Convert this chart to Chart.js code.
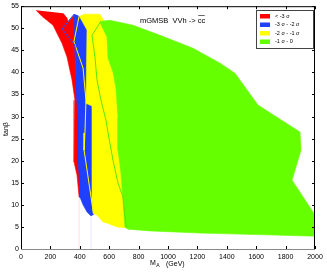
<!DOCTYPE html>
<html>
<head>
<meta charset="utf-8">
<script src="https://cdn.jsdelivr.net/npm/chart.js@4.4.0/dist/chart.umd.min.js"></script>
<style>
html, body { margin: 0; padding: 0; background: #fff; }
#wrap { width: 327px; height: 273px; }
</style>
</head>
<body>
<div id="wrap"><canvas id="scan" width="327" height="273"></canvas></div>
<script>
const xTicks = [0, 200, 400, 600, 800, 1000, 1200, 1400, 1600, 1800, 2000];
const yTicks = [0, 5, 10, 15, 20, 25, 30, 35, 40, 45, 50, 55];

const seriesLabels = ['< -3 \u03c3', '-3 \u03c3 - -2 \u03c3', '-2 \u03c3 - -1 \u03c3', '-1 \u03c3 - 0'];
const seriesColors = ['#ff0000', '#2040ff', '#ffff00', '#66ff00'];

// region outlines as [M_A (GeV), tan beta]
const redRegion = [[102, 54.1], [143, 52.7], [218, 50.7], [279, 46.6], [313, 43.5], [347, 38.3], [367, 33.7],
  [361, 29.7], [361, 24.2], [361, 19.7], [381, 16.7], [395, 11.8], [415, 11.5], [401, 20.1], [388, 36.0],
  [372, 49.5], [361, 53.0], [320, 51.5], [313, 52.3], [286, 53.4]];
const blueRegion = [[361, 53.2], [367, 46.2], [374, 36.0], [388, 29.7], [388, 19.7], [395, 16.7], [401, 11.8],
  [422, 10.0], [449, 8.4], [476, 7.5], [495, 7.9], [503, 22.4], [483, 49.6], [401, 52.5], [381, 53.0]];
const yellowRegion = [[401, 52.7], [429, 53.2], [537, 53.2], [571, 51.2], [592, 48.0], [619, 42.8], [673, 33.7],
  [687, 22.4], [714, 11.1], [741, 4.75], [721, 4.75], [653, 5.0], [585, 5.9], [558, 6.1], [517, 7.7],
  [490, 8.1], [483, 11.1], [483, 32.4], [442, 33.0], [449, 49.6], [401, 52.5]];
const greenRegion = [[537, 51.4], [585, 48.0], [592, 43.2], [626, 40.1], [646, 36.4], [660, 29.7], [660, 22.4],
  [680, 17.2], [694, 11.1], [707, 5.0], [728, 4.5], [878, 4.1], [1218, 3.6], [1673, 3.2], [2000, 2.9],
  [2000, 7.7], [1844, 15.6], [1905, 22.4], [1898, 26.5], [1612, 32.6], [1456, 39.8], [1354, 42.1],
  [1170, 45.5], [946, 48.4], [762, 50.7], [605, 51.8], [551, 51.6]];

// thin contour lines drawn over the fills
const blueEdge = [[361, 53.2], [279, 49.8], [367, 46.2], [374, 39.4]];
const yellowEdge = [[395, 52.7], [360, 47.0], [422, 41.0], [442, 33.7], [435, 26.3], [429, 22.4], [449, 17.9],
  [469, 13.4], [490, 8.8], [503, 7.9]];
const greenEdge = [[544, 51.6], [483, 48.4], [503, 43.5], [517, 38.3], [544, 33.7], [578, 29.2], [592, 26.3],
  [626, 20.1], [660, 14.9], [694, 11.8], [714, 5.0]];
const redStub = [[395, 0], [395, 11.8]];
const blueStub = [[476, 0], [476, 7.5]];

const toPts = arr => arr.map(p => ({ x: p[0], y: p[1] }));
const FONT = '"Liberation Sans", Arial, sans-serif';

function region(pts, color, order) {
  return {
    data: toPts(pts), showLine: true, fill: 'shape', backgroundColor: color,
    borderColor: color, borderWidth: 0.6, pointRadius: 0, order: order
  };
}
function edge(pts, color, width) {
  return {
    data: toPts(pts), showLine: true, fill: false, borderColor: color,
    borderWidth: width, pointRadius: 0, order: 0
  };
}

const framePlugin = {
  id: 'frame',
  afterDatasetsDraw(chart) {
    const { ctx, chartArea: a, scales: { x, y } } = chart;
    ctx.save();
    ctx.lineWidth = 1;
    ctx.strokeStyle = '#000';
    ctx.beginPath();
    xTicks.forEach(v => {
      const px = Math.round(x.getPixelForValue(v)) + 0.5;
      ctx.moveTo(px, a.bottom); ctx.lineTo(px, a.bottom - 3);
      ctx.moveTo(px, a.top); ctx.lineTo(px, a.top + 3);
    });
    yTicks.forEach(v => {
      const py = Math.round(y.getPixelForValue(v)) + 0.5;
      ctx.moveTo(a.left, py); ctx.lineTo(a.left + 3, py);
      ctx.moveTo(a.right, py); ctx.lineTo(a.right - 3, py);
    });
    ctx.stroke();

    ctx.beginPath();
    ctx.moveTo(a.left + 0.5, a.bottom); ctx.lineTo(a.left + 0.5, a.top + 0.5);
    ctx.lineTo(a.right - 0.5, a.top + 0.5); ctx.lineTo(a.right - 0.5, a.bottom);
    ctx.stroke();
    ctx.strokeStyle = '#8a8a8a';
    ctx.beginPath();
    ctx.moveTo(a.left, a.bottom + 0.5); ctx.lineTo(a.right, a.bottom + 0.5);
    ctx.stroke();
    ctx.restore();
  },
  afterDraw(chart) {
    const { ctx } = chart;
    ctx.save();
    ctx.fillStyle = '#000';
    ctx.textBaseline = 'middle';

    // title inside plot
    ctx.font = '7.5px ' + FONT;
    const t1 = 'mGMSB  VVh -> ';
    const tx = 140, ty = 21;
    ctx.fillText(t1 + 'cc', tx, ty);
    const w1 = ctx.measureText(t1).width, w2 = ctx.measureText('cc').width;
    ctx.strokeStyle = '#000';
    ctx.lineWidth = 0.6;
    ctx.beginPath();
    ctx.moveTo(tx + w1 + 0.5, ty - 5.5); ctx.lineTo(tx + w1 + w2 - 0.5, ty - 5.5);
    ctx.stroke();

    // legend box
    const lx = 256, ly = 10, lw = 57, lh = 38;
    ctx.fillStyle = '#fff';
    ctx.fillRect(lx, ly, lw, lh);
    ctx.strokeStyle = '#444';
    ctx.lineWidth = 1;
    ctx.strokeRect(lx + 0.5, ly + 0.5, lw, lh);
    ctx.font = '5.5px ' + FONT;
    seriesLabels.forEach((lab, i) => {
      const ry = ly + 6 + i * 8.5;
      ctx.fillStyle = seriesColors[i];
      ctx.fillRect(lx + 4, ry - 2, 10, 4.5);
      ctx.fillStyle = '#000';
      ctx.fillText(lab, lx + 19, ry + 0.3);
    });

    // axis titles
    ctx.font = '7px ' + FONT;
    ctx.fillText('M', 150, 263);
    const mw = ctx.measureText('M').width;
    ctx.font = '5px ' + FONT;
    ctx.fillText('A', 150 + mw + 0.3, 266);
    ctx.font = '7px ' + FONT;
    ctx.fillText('(GeV)', 166, 264.5);

    ctx.translate(6, 129);
    ctx.rotate(-Math.PI / 2);
    ctx.textAlign = 'center';
    ctx.fillText('tan\u03b2', 0, 0);
    ctx.restore();
  }
};

new Chart(document.getElementById('scan'), {
  type: 'scatter',
  data: {
    datasets: [
      edge(blueEdge, '#2a48ff', 1),
      edge(yellowEdge, '#ffff00', 1),
      edge(greenEdge, '#5ee600', 1),
      edge(redStub, 'rgba(255,0,0,0.18)', 0.8),
      edge(blueStub, 'rgba(40,60,255,0.15)', 0.8),
      region(greenRegion, seriesColors[3], 1),
      region(yellowRegion, seriesColors[2], 2),
      region(blueRegion, seriesColors[1], 3),
      region(redRegion, seriesColors[0], 4)
    ]
  },
  options: {
    responsive: false,
    animation: false,
    layout: { padding: { top: 6, right: 12, left: 0, bottom: 0 } },
    plugins: {
      legend: { display: false },
      tooltip: { enabled: false }
    },
    scales: {
      x: {
        type: 'linear', min: 0, max: 2000,
        afterBuildTicks: s => { s.ticks = xTicks.map(v => ({ value: v })); },
        afterFit: s => { s.height = 24; },
        grid: { display: false, drawTicks: false },
        border: { display: false },
        ticks: {
          color: '#000', padding: 4, maxRotation: 0, font: { size: 7, family: FONT },
          callback: v => String(v)
        }
      },
      y: {
        type: 'linear', min: 0, max: 55,
        afterBuildTicks: s => { s.ticks = yTicks.map(v => ({ value: v })); },
        afterFit: s => { s.width = 21; },
        grid: { display: false, drawTicks: false },
        border: { display: false },
        ticks: { color: '#000', padding: 2, font: { size: 7, family: FONT }, callback: v => String(v) }
      }
    }
  },
  plugins: [framePlugin]
});
</script>
</body>
</html>
